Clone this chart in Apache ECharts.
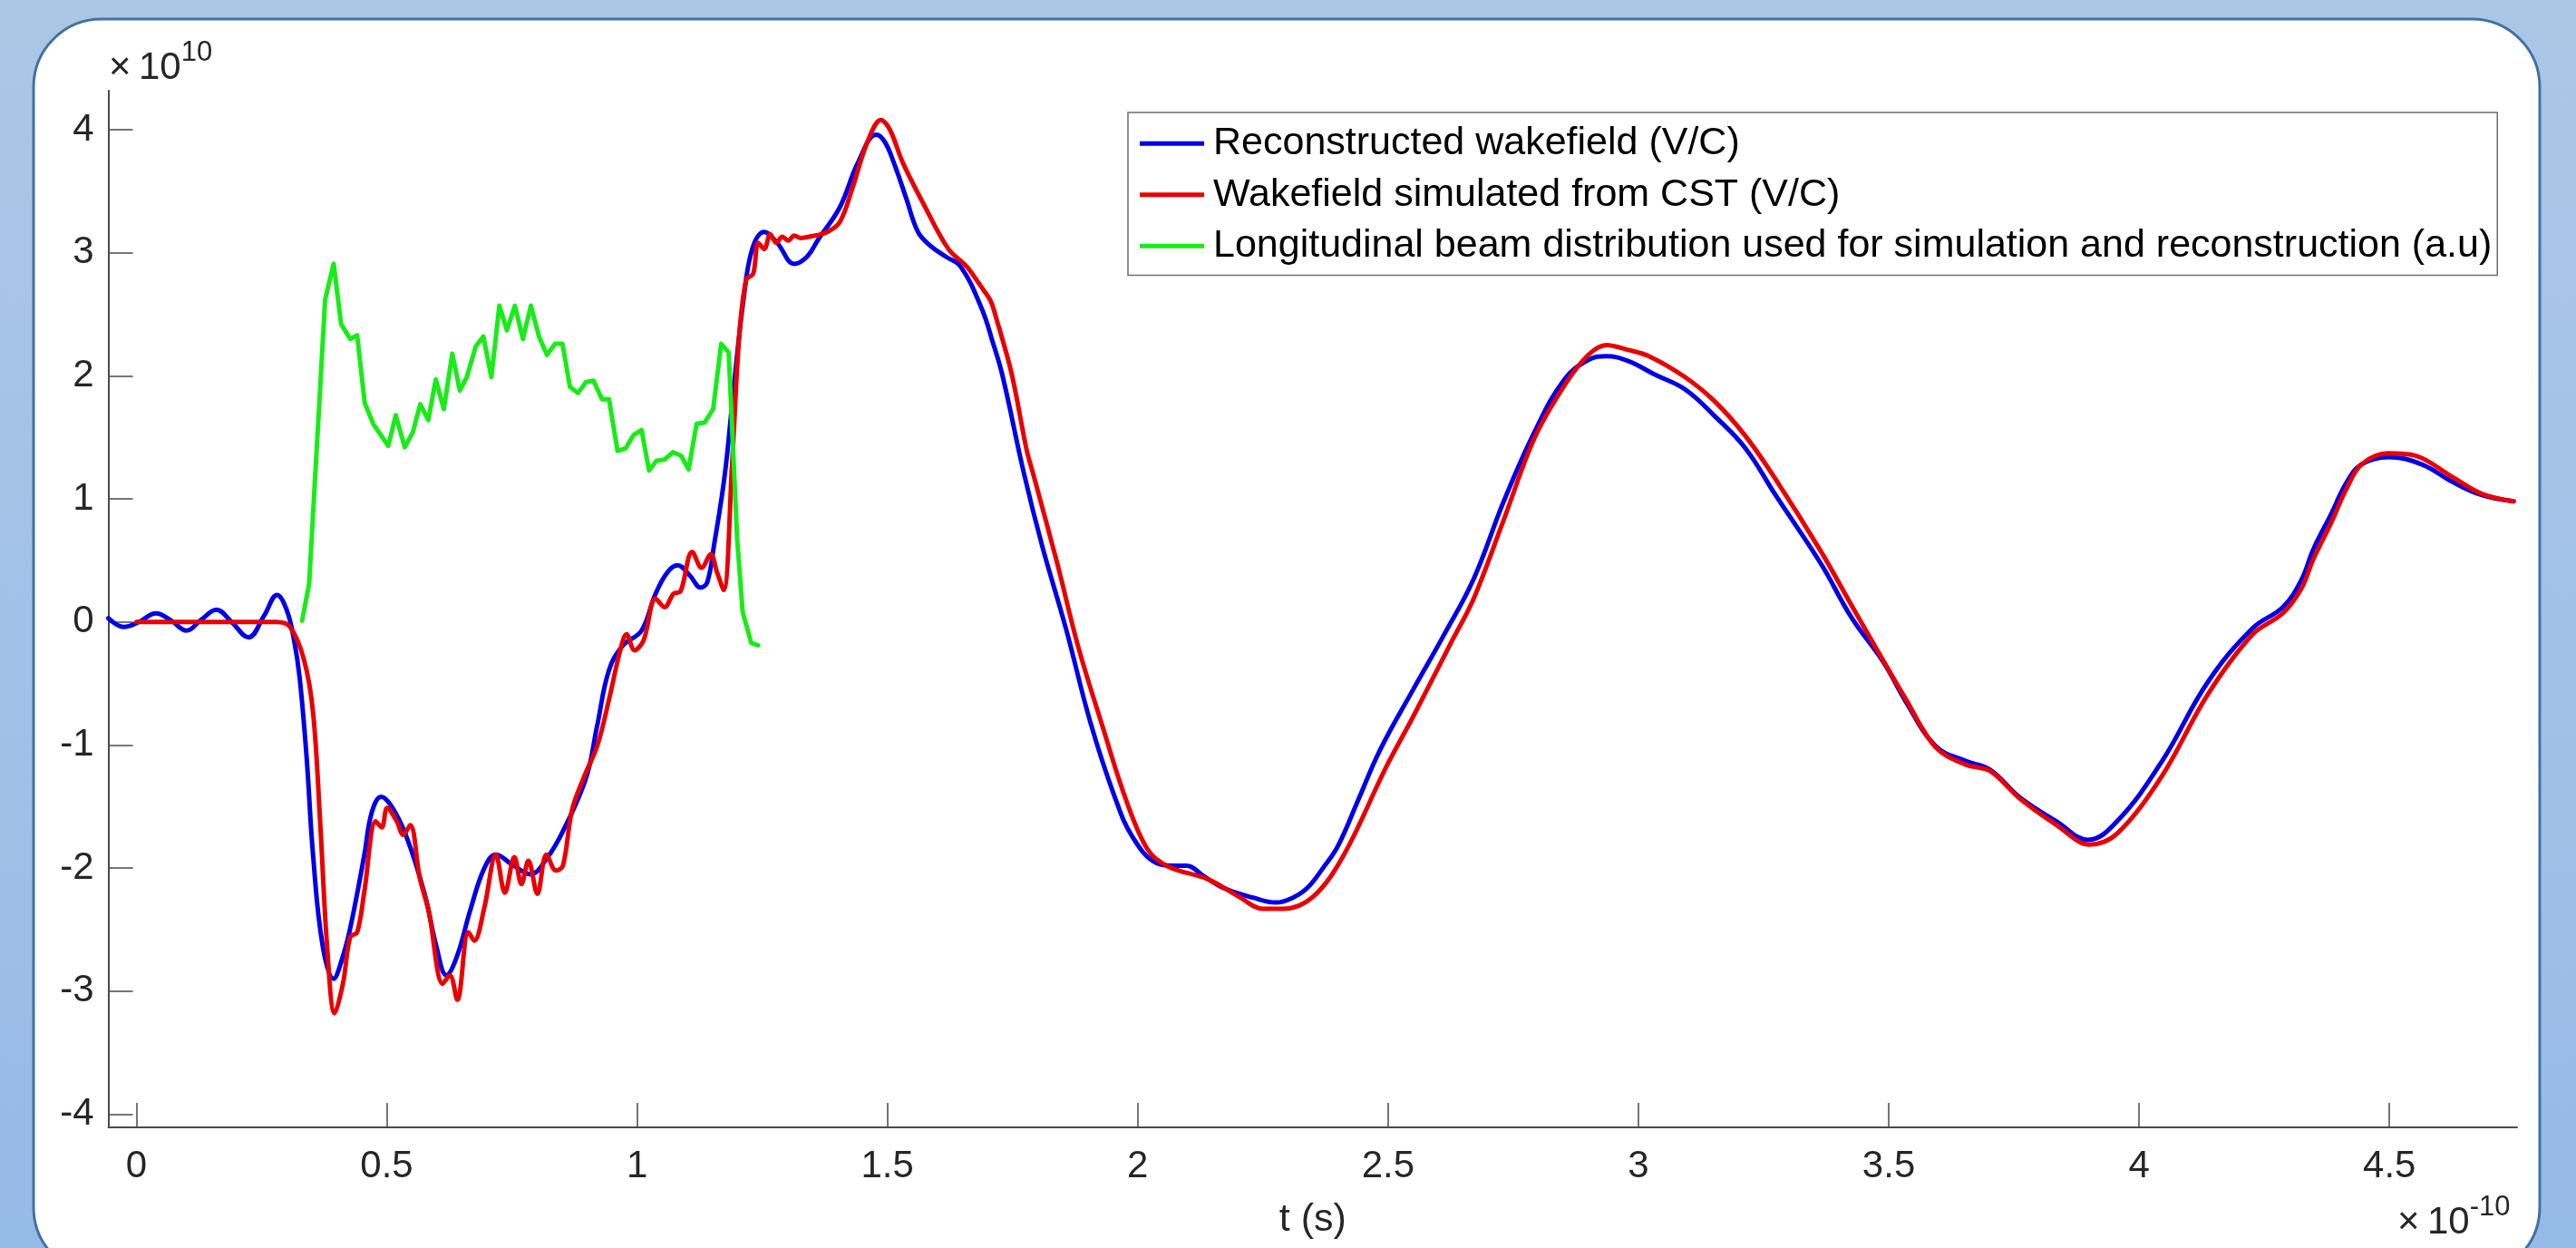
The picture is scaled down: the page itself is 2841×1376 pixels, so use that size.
<!DOCTYPE html>
<html>
<head>
<meta charset="utf-8">
<script src="https://cdn.jsdelivr.net/npm/echarts@6/dist/echarts.min.js"></script>
<style>
html,body{margin:0;padding:0;}
body{background:linear-gradient(180deg,#abc7e6 0%,#a1c1e7 55%,#96bae6 100%);}
#c{width:2841px;height:1376px;}
</style>
</head>
<body>
<div id="c"></div>
<script>
// time axis in units of 1e-10 s, wakefield in units of 1e10 V/C
const seriesNames = [
  'Reconstructed wakefield (V/C)',
  'Wakefield simulated from CST (V/C)',
  'Longitudinal beam distribution used for simulation and reconstruction (a.u)'
];
const xTicks = [0, 0.5, 1, 1.5, 2, 2.5, 3, 3.5, 4, 4.5];
const yTicks = [-4, -3, -2, -1, 0, 1, 2, 3, 4];

const tBlue = [-0.056,-0.025,0.005,0.039,0.07,0.10,0.13,0.16,0.19,0.224,
  0.255,0.281,0.300,0.315,0.326,0.340,0.353,0.372,0.394,0.410,
  0.427,0.455,0.470,0.489,0.510,0.538,0.575,0.600,0.619,0.640,
  0.667,0.695,0.718,0.750,0.787,0.820,0.852,0.898,0.920,0.944,
  0.972,1.009,1.036,1.060,1.081,1.105,1.127,1.140,1.154,1.175,
  1.193,1.212,1.230,1.254,1.280,1.314,1.340,1.362,1.405,1.441,
  1.478,1.495,1.513,1.537,1.561,1.585,1.616,1.646,1.688,1.710,
  1.730,1.772,1.809,1.857,1.905,1.953,1.990,2.038,2.070,2.098,
  2.130,2.170,2.230,2.276,2.310,2.339,2.370,2.400,2.440,2.484,
  2.550,2.611,2.671,2.731,2.792,2.852,2.900,2.936,2.980,3.033,
  3.093,3.153,3.214,3.274,3.365,3.425,3.490,3.533,3.594,3.654,
  3.702,3.763,3.835,3.898,3.956,4.046,4.137,4.227,4.287,4.324,
  4.348,4.384,4.414,4.444,4.498,4.565,4.625,4.685,4.748];
const vBlue = [0.03,-0.04,0.0,0.07,0.01,-0.07,0.02,0.10,0.0,-0.125,
  0.05,0.22,0.10,-0.15,-0.45,-1.1,-1.9,-2.63,-2.90,-2.75,
  -2.49,-1.90,-1.55,-1.42,-1.50,-1.73,-2.20,-2.65,-2.87,-2.72,
  -2.34,-2.00,-1.89,-1.97,-2.05,-1.92,-1.70,-1.27,-0.85,-0.39,
  -0.19,-0.07,0.22,0.40,0.46,0.38,0.28,0.32,0.63,1.19,
  1.90,2.60,3.03,3.17,3.08,2.91,2.97,3.11,3.37,3.73,
  3.96,3.90,3.73,3.45,3.17,3.06,2.97,2.89,2.55,2.28,
  2.00,1.22,0.62,-0.06,-0.81,-1.41,-1.75,-1.96,-1.98,-1.98,
  -2.06,-2.16,-2.24,-2.28,-2.24,-2.16,-2.00,-1.82,-1.45,-1.04,
  -0.55,-0.11,0.35,0.98,1.54,1.97,2.13,2.16,2.12,2.01,
  1.89,1.67,1.41,1.03,0.47,0.04,-0.33,-0.64,-1.01,-1.13,
  -1.20,-1.43,-1.62,-1.77,-1.62,-1.13,-0.49,-0.05,0.12,0.34,
  0.59,0.88,1.13,1.28,1.34,1.28,1.14,1.03,0.98];

const tRed = [0.0,0.1,0.2,0.279,0.307,0.335,0.353,0.367,0.381,0.396,
  0.413,0.427,0.441,0.455,0.478,0.490,0.501,0.520,0.533,0.547,
  0.566,0.584,0.612,0.626,0.641,0.663,0.675,0.695,0.718,0.736,
  0.755,0.769,0.783,0.801,0.819,0.838,0.852,0.870,0.893,0.921,
  0.944,0.967,0.979,0.995,1.013,1.037,1.055,1.073,1.087,1.110,
  1.129,1.147,1.160,1.173,1.190,1.204,1.218,1.232,1.242,1.254,
  1.266,1.278,1.290,1.302,1.314,1.326,1.344,1.380,1.405,1.429,
  1.460,1.487,1.505,1.531,1.573,1.622,1.658,1.688,1.706,1.718,
  1.748,1.778,1.790,1.839,1.881,1.929,1.977,2.020,2.062,2.140,
  2.201,2.249,2.291,2.351,2.412,2.496,2.550,2.623,2.671,2.731,
  2.792,2.852,2.900,2.936,2.980,3.021,3.093,3.153,3.214,3.274,
  3.365,3.425,3.480,3.533,3.594,3.654,3.702,3.763,3.835,3.901,
  3.956,4.046,4.137,4.227,4.287,4.324,4.348,4.384,4.414,4.444,
  4.498,4.553,4.625,4.685,4.748];
const vRed = [0,0,0,0,-0.04,-0.31,-0.74,-1.62,-2.64,-3.18,
  -2.93,-2.56,-2.52,-2.20,-1.62,-1.67,-1.51,-1.62,-1.73,-1.65,
  -2.08,-2.35,-2.94,-2.87,-3.07,-2.52,-2.59,-2.32,-1.89,-2.20,
  -1.91,-2.13,-1.94,-2.21,-1.89,-2.02,-1.98,-1.53,-1.27,-1.00,
  -0.63,-0.22,-0.10,-0.23,-0.15,0.19,0.12,0.23,0.25,0.57,
  0.44,0.55,0.40,0.26,1.30,2.32,2.78,2.83,3.08,3.03,
  3.15,3.08,3.13,3.10,3.14,3.12,3.13,3.17,3.25,3.51,
  3.90,4.08,4.00,3.73,3.39,3.03,2.89,2.72,2.61,2.46,
  2.02,1.40,1.22,0.48,-0.20,-0.84,-1.45,-1.85,-1.99,-2.09,
  -2.23,-2.33,-2.33,-2.23,-1.89,-1.18,-0.77,-0.19,0.19,0.83,
  1.49,1.92,2.17,2.25,2.21,2.16,1.99,1.79,1.51,1.16,
  0.57,0.14,-0.25,-0.62,-1.02,-1.16,-1.21,-1.44,-1.65,-1.81,
  -1.72,-1.25,-0.59,-0.10,0.07,0.27,0.51,0.81,1.08,1.28,
  1.37,1.35,1.18,1.04,0.98];

const tGreen = [0.331,0.345,0.377,0.394,0.409,0.427,0.441,0.456,0.473,0.488,
  0.503,0.518,0.536,0.552,0.567,0.583,0.598,0.614,0.631,0.646,
  0.660,0.678,0.693,0.709,0.725,0.740,0.756,0.772,0.788,0.804,
  0.820,0.836,0.851,0.866,0.882,0.898,0.913,0.930,0.944,0.961,
  0.977,0.993,1.009,1.024,1.039,1.055,1.072,1.088,1.103,1.119,
  1.135,1.152,1.168,1.183,1.193,1.200,1.211,1.228,1.242];
const vGreen = [0.01,0.31,2.62,2.91,2.42,2.30,2.33,1.78,1.61,1.52,
  1.43,1.68,1.42,1.54,1.77,1.64,1.97,1.73,2.18,1.88,
  1.99,2.24,2.32,1.99,2.57,2.37,2.57,2.30,2.57,2.32,
  2.17,2.26,2.26,1.91,1.86,1.95,1.96,1.81,1.81,1.39,
  1.41,1.52,1.56,1.23,1.31,1.32,1.38,1.35,1.24,1.61,
  1.62,1.73,2.26,2.19,1.30,0.67,0.08,-0.17,-0.19];

const zip = (t, v) => t.map((x, i) => [x, v[i]]);
const FONT = 'Liberation Sans, Arial, Helvetica, sans-serif';
const TXT = '#262626';
const AX = '#4a4a4a';

const chart = echarts.init(document.getElementById('c'), null, {renderer: 'canvas'});
chart.setOption({
  animation: false,
  backgroundColor: 'transparent',
  textStyle: {fontFamily: FONT},
  graphic: [
    {type: 'rect', z: -5, shape: {x: 37, y: 21, width: 2764, height: 1385, r: 75},
     style: {fill: '#ffffff', stroke: '#4470a3', lineWidth: 3}},
    {type: 'text', z: 5, x: 120, y: 43,
     style: {text: '{b|×\u200910}{s|10}', align: 'left', verticalAlign: 'top',
       rich: {b: {fontSize: 42, lineHeight: 64, fill: TXT, fontFamily: FONT},
              s: {fontSize: 31, lineHeight: 30, verticalAlign: 'top', fill: TXT, fontFamily: FONT}}}},
    {type: 'text', z: 5, x: 2644, y: 1316,
     style: {text: '{b|×\u200910}{s|-10}', align: 'left', verticalAlign: 'top',
       rich: {b: {fontSize: 42, lineHeight: 64, fill: TXT, fontFamily: FONT},
              s: {fontSize: 31, lineHeight: 30, verticalAlign: 'top', fill: TXT, fontFamily: FONT}}}}
  ],
  grid: {left: 119.6, right: 65, top: 100, bottom: 133, containLabel: false, outerBoundsMode: 'none'},
  legend: {
    orient: 'vertical', left: 1244, top: 124,
    padding: [6, 6, 4, 13],
    itemWidth: 71, itemHeight: 5, itemGap: 0, icon: 'rect',
    borderColor: '#6e6e6e', borderWidth: 1.5, backgroundColor: '#ffffff',
    textStyle: {fontSize: 43, lineHeight: 56.5, color: '#000', fontFamily: FONT, padding: [0, 0, 0, 5]},
    data: seriesNames
  },
  xAxis: {
    type: 'value', min: -0.0558, max: 4.7549,
    name: 't (s)', nameLocation: 'middle', nameGap: 81,
    nameTextStyle: {fontSize: 43, color: TXT, fontFamily: FONT},
    axisLine: {show: true, onZero: false, lineStyle: {color: AX, width: 2}},
    axisTick: {show: true, inside: true, length: 27, customValues: xTicks, lineStyle: {color: AX, width: 1.5}},
    axisLabel: {show: true, customValues: xTicks, fontSize: 42, color: TXT, margin: 22, fontFamily: FONT,
      formatter: v => String(v)},
    splitLine: {show: false}
  },
  yAxis: {
    type: 'value', min: -4.107, max: 4.317,
    axisLine: {show: true, onZero: false, lineStyle: {color: AX, width: 2}},
    axisTick: {show: true, inside: true, length: 27, customValues: yTicks, lineStyle: {color: AX, width: 1.5}},
    axisLabel: {show: true, customValues: yTicks, fontSize: 42, color: TXT, margin: 16, fontFamily: FONT,
      formatter: v => String(v)},
    splitLine: {show: false}
  },
  series: [
    {type: 'line', name: seriesNames[0], data: zip(tBlue, vBlue), showSymbol: false, symbol: 'none',
     smooth: 0.4, color: '#0000e8', lineStyle: {color: '#0000e8', width: 5, join: 'round', cap: 'round'}, z: 2},
    {type: 'line', name: seriesNames[1], data: zip(tRed, vRed), showSymbol: false, symbol: 'none',
     smooth: 0.35, color: '#ea0000', lineStyle: {color: '#ea0000', width: 5, join: 'round', cap: 'round'}, z: 3},
    {type: 'line', name: seriesNames[2], data: zip(tGreen, vGreen), showSymbol: false, symbol: 'none',
     smooth: false, color: '#18ec18', lineStyle: {color: '#18ec18', width: 5, join: 'round', cap: 'round'}, z: 4}
  ]
});
</script>
</body>
</html>
